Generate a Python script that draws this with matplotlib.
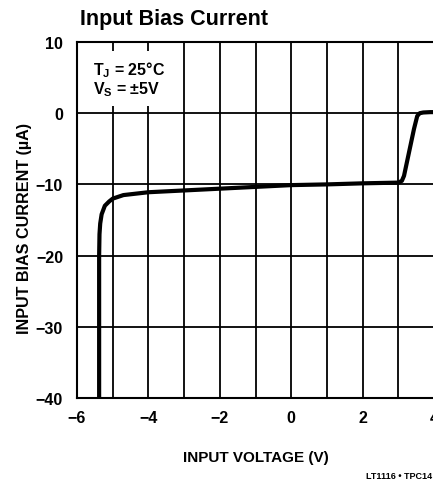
import matplotlib
matplotlib.use("Agg")
import matplotlib.pyplot as plt

# Data
voltage = [-5.38, -5.38, -5.37, -5.35, -5.31, -5.22, -5.10, -5.00, -4.70, -4.00,
           -3.00, -2.00, -1.00, 0.00, 1.00, 2.00, 3.00, 3.10, 3.16, 3.30,
           3.44, 3.53, 3.60, 3.70, 3.90, 4.00]
current = [-40.0, -20.0, -17.0, -15.5, -14.2, -13.0, -12.4, -12.0, -11.5, -11.1,
           -10.85, -10.6, -10.35, -10.1, -10.0, -9.85, -9.75, -9.5, -8.8, -5.5,
           -2.2, -0.4, 0.0, 0.1, 0.15, 0.15]
x_ticks = [-6, -4, -2, 0, 2, 4]
x_ticklabels = ["\u22126", "\u22124", "\u22122", "0", "2", "4"]
y_ticks = [-40, -30, -20, -10, 0, 10]
y_ticklabels = ["\u221240", "\u221230", "\u221220", "\u221210", "0", "10"]

FONT = ["Liberation Sans", "DejaVu Sans"]
plt.rcParams["font.family"] = FONT
plt.rcParams["mathtext.fontset"] = "custom"
plt.rcParams["mathtext.rm"] = "Liberation Sans:bold"
plt.rcParams["mathtext.bf"] = "Liberation Sans:bold"

fig = plt.figure(figsize=(4.33, 4.85), dpi=100)
ax = fig.add_axes([77 / 433, 1 - 399 / 485, (434 - 77) / 433, (399 - 43) / 485])

ax.set_xlim(-6, 4)
ax.set_ylim(-40, 10)
ax.set_yticks(y_ticks)
ax.set_xticks(x_ticks)
ax.set_xticks(range(-6, 5), minor=True)
ax.set_xticklabels(x_ticklabels, fontsize=11.5, fontweight="bold")
ax.set_yticklabels(y_ticklabels, fontsize=11.5, fontweight="bold")
ax.tick_params(axis="both", which="both", length=0)
ax.tick_params(axis="x", pad=9)
ax.tick_params(axis="y", pad=10)
ax.grid(True, which="both", color="black", linewidth=1.3)
for s in ax.spines.values():
    s.set_linewidth(1.5)

ax.plot(voltage, current, color="black", linewidth=3, solid_joinstyle="round",
        solid_capstyle="butt", zorder=5)

ax.text(-5.55, 7.6, "T$_\\mathregular{J}$ = 25\u00b0C\nV$_\\mathregular{S}$ = \u00b15V",
        fontsize=11.5, fontweight="bold", va="top", ha="left", linespacing=1.05,
        bbox=dict(facecolor="white", edgecolor="none", pad=6), zorder=6)

ax.set_xlabel("INPUT VOLTAGE (V)", fontsize=11, fontweight="bold", labelpad=18)
ax.set_ylabel("INPUT BIAS CURRENT (\u00b5A)", fontsize=11.6, fontweight="bold", labelpad=2)
ax.yaxis.set_label_coords(-0.125, 0.48)

fig.text(80 / 433, 1 - 20 / 485, "Input Bias Current", fontsize=15.5, fontweight="bold",
         ha="left", va="center")
fig.text(432 / 433, 1 - 477 / 485, "LT1116 \u2022 TPC14", fontsize=6.5, fontweight="bold",
         ha="right", va="center")

fig.savefig("out.png", dpi=100)
